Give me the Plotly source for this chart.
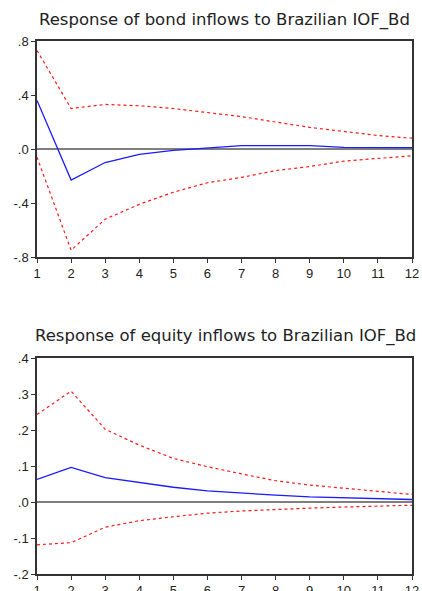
import plotly.graph_objects as go

periods = list(range(1, 13))

bond_resp = [0.36, -0.23, -0.10, -0.04, -0.01, 0.005, 0.025, 0.025, 0.025, 0.012, 0.01, 0.01]
bond_upper = [0.73, 0.30, 0.33, 0.32, 0.30, 0.27, 0.24, 0.20, 0.16, 0.13, 0.10, 0.08]
bond_lower = [-0.06, -0.75, -0.52, -0.41, -0.32, -0.25, -0.21, -0.16, -0.13, -0.09, -0.07, -0.05]

equity_resp = [0.063, 0.096, 0.068, 0.054, 0.041, 0.031, 0.024, 0.019, 0.014, 0.011, 0.008, 0.007]
equity_upper = [0.243, 0.308, 0.202, 0.158, 0.121, 0.098, 0.078, 0.059, 0.047, 0.038, 0.029, 0.021]
equity_lower = [-0.119, -0.113, -0.070, -0.052, -0.041, -0.031, -0.025, -0.020, -0.017, -0.014, -0.011, -0.009]

bond_tickvals = [0.8, 0.4, 0.0, -0.4, -0.8]
bond_ticktext = [".8", ".4", ".0", "-.4", "-.8"]
equity_tickvals = [0.4, 0.3, 0.2, 0.1, 0.0, -0.1, -0.2]
equity_ticktext = [".4", ".3", ".2", ".1", ".0", "-.1", "-.2"]

titles = ["Response of bond inflows to Brazilian IOF_Bd",
          "Response of equity inflows to Brazilian IOF_Bd"]

W, H = 422, 591

def px_x(p):
    return p / W

def px_y(p):
    return 1 - p / H

fig = go.Figure()

def add_panel(idx, resp, up, lo):
    xa = "x" if idx == 1 else "x2"
    ya = "y" if idx == 1 else "y2"
    fig.add_trace(go.Scatter(x=periods, y=[0]*len(periods), mode="lines",
                             line=dict(color="black", width=1.2), xaxis=xa, yaxis=ya,
                             hoverinfo="skip"))
    fig.add_trace(go.Scatter(x=periods, y=up, mode="lines",
                             line=dict(color="#ff1a1a", width=1.2, dash="dot"), xaxis=xa, yaxis=ya))
    fig.add_trace(go.Scatter(x=periods, y=lo, mode="lines",
                             line=dict(color="#ff1a1a", width=1.2, dash="dot"), xaxis=xa, yaxis=ya))
    fig.add_trace(go.Scatter(x=periods, y=resp, mode="lines",
                             line=dict(color="#1a1aff", width=1.3), xaxis=xa, yaxis=ya))

add_panel(1, bond_resp, bond_upper, bond_lower)
add_panel(2, equity_resp, equity_upper, equity_lower)

axis_common = dict(showline=True, mirror=True, linecolor="#333333", linewidth=1.5,
                   ticks="outside", ticklen=4, tickcolor="#333333", tickwidth=1.2,
                   showgrid=False, zeroline=False, automargin=False,
                   tickfont=dict(family="Liberation Sans", size=13, color="#222"))

x_dom = [px_x(37), px_x(412)]
fig.update_layout(
    width=W, height=H, margin=dict(l=0, r=0, t=0, b=0),
    paper_bgcolor="white", plot_bgcolor="white", showlegend=False,
    xaxis=dict(domain=x_dom, range=[1, 12], tickvals=periods, anchor="y", **axis_common),
    yaxis=dict(domain=[px_y(257), px_y(41)], range=[-0.8, 0.8],
               tickvals=bond_tickvals, ticktext=bond_ticktext, anchor="x", **axis_common),
    xaxis2=dict(domain=x_dom, range=[1, 12], tickvals=periods, anchor="y2", **axis_common),
    yaxis2=dict(domain=[px_y(574), px_y(358)], range=[-0.2, 0.4],
                tickvals=equity_tickvals, ticktext=equity_ticktext, anchor="x2", **axis_common),
    annotations=[
        dict(text=titles[0], x=px_x(224), y=px_y(20), xref="paper", yref="paper",
             xanchor="center", yanchor="middle", showarrow=False,
             font=dict(family="DejaVu Sans", size=16.5, color="#222")),
        dict(text=titles[1], x=px_x(225), y=px_y(336), xref="paper", yref="paper",
             xanchor="center", yanchor="middle", showarrow=False,
             font=dict(family="DejaVu Sans", size=16.5, color="#222")),
    ],
)

fig.write_html(
    "out.html",
    config={"displayModeBar": False},
    post_script="document.body.style.margin='0';document.body.style.overflow='hidden';",
)
